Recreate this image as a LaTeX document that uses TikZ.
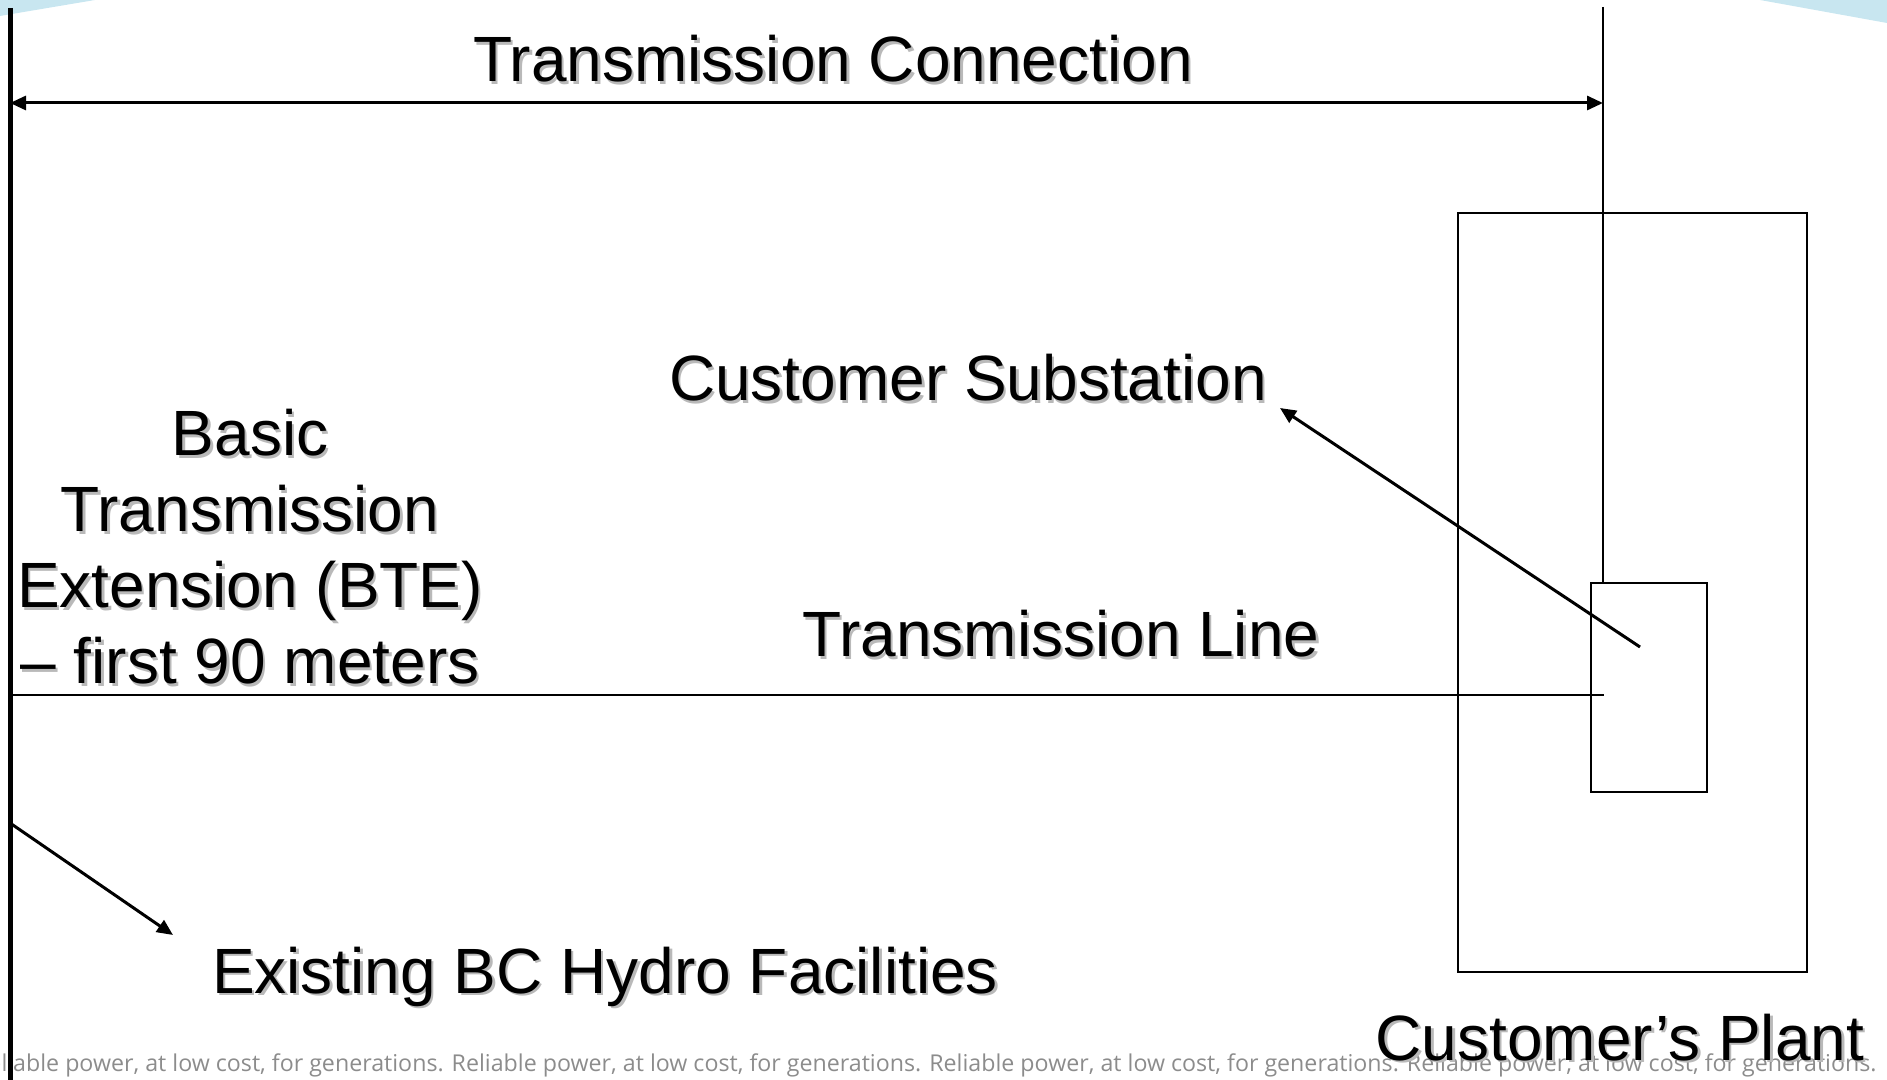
\documentclass[tikz,border=0pt]{standalone}
\usepackage{fontspec}
\setmainfont{Liberation Sans}
\newfontfamily\footerfont{Open Sans}
\usetikzlibrary{arrows.meta}

\definecolor{slideblue}{RGB}{200,230,240}
\definecolor{footergray}{RGB}{140,140,140}
\definecolor{shadowgray}{RGB}{185,185,185}

\tikzstyle{bigtext} = [font=\fontsize{32}{38}\selectfont, inner sep=0pt, anchor=base]
\tikzstyle{thinline} = [line width=1pt]
\tikzstyle{pointer} = [line width=1.5pt, -{Triangle[length=8pt,width=7pt]}]
\tikzstyle{dimarrow} = [line width=1.5pt, {Triangle[length=8pt,width=7pt]}-{Triangle[length=8pt,width=7pt]}]

\newcommand{\shadowed}[1]{\makebox[0pt][l]{\hspace{1.2pt}\raisebox{-1.2pt}{\textcolor{shadowgray}{#1}}}#1}

\begin{document}
\begin{tikzpicture}[x=0.5pt, y=-0.5pt]
\useasboundingbox (0,0) rectangle (1887,1080);
%------------ Slide background ---------------------
\fill[slideblue] (0,0) -- (95,0) -- (0,16) -- cycle;
\fill[slideblue] (1760,0) -- (1887,0) -- (1887,23) -- cycle;
\node[font=\footerfont\fontsize{11.6}{14}\selectfont, text=footergray, inner sep=0pt, anchor=base east]
  (footer) at (1877,1071) {Reliable power, at low cost, for generations. Reliable power, at low cost, for generations. Reliable power, at low cost, for generations. Reliable power, at low cost, for generations.};

%------------ Boundaries and boxes ---------------------
\coordinate (lefttop) at (10,8);
\coordinate (leftbottom) at (10,1080);
\coordinate (righttop) at (1603,7);
\draw[line width=2.5pt] (lefttop) -- (leftbottom);
\draw[thinline] (1458,213) rectangle (1807,972);
\node[draw, thinline, minimum width=58pt, minimum height=104.5pt, inner sep=0pt] (substation) at (1649,687.5) {};
\draw[thinline] (righttop) -- (righttop |- substation.north);
\coordinate (lineleft) at (10,695);
\coordinate (lineright) at (1604,695);
\draw[thinline] (lineleft) -- (lineright);

%------------ Labels ---------------------
\node[bigtext] (connection) at (833,82) {\shadowed{Transmission Connection}};
\node[bigtext] (custsub) at (968,401) {\shadowed{Customer Substation}};
\node[bigtext, align=center, anchor=center] (bte) at (250,548) {\shadowed{Basic}\\ \shadowed{Transmission}\\ \shadowed{Extension (BTE)}\\ \shadowed{– first 90 meters}};
\node[bigtext] (tline) at (1061,657) {\shadowed{Transmission Line}};
\node[bigtext] (existing) at (605,993) {\shadowed{Existing BC Hydro Facilities}};
\node[bigtext] (plant) at (1620,1060) {\shadowed{Customer’s Plant}};

%------------ Arrows ---------------------
\draw[dimarrow] (lefttop |- 0,103) -- (righttop |- 0,103);
\coordinate (subtail) at (1640,647);
\coordinate (subhead) at (1280,408);
\draw[pointer] (subtail) -- (subhead);
\coordinate (facltail) at (10,823);
\coordinate (faclhead) at (173,935);
\draw[pointer] (facltail) -- (faclhead);
\end{tikzpicture}
\end{document}
